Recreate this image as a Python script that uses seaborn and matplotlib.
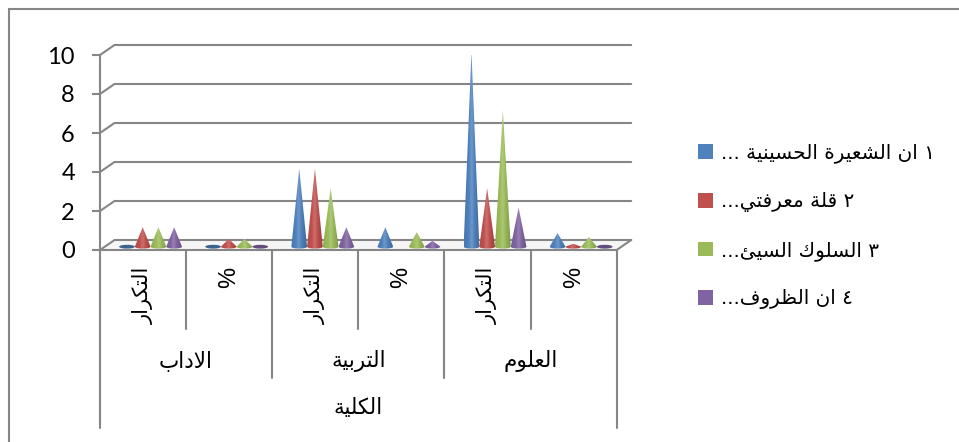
import numpy as np
import pandas as pd
import seaborn as sns
import matplotlib
matplotlib.use("Agg")
import matplotlib.pyplot as plt
from matplotlib.lines import Line2D
from matplotlib.patches import Ellipse, Patch, Polygon
from matplotlib.path import Path
from matplotlib.colors import to_rgb

# ---- data -----------------------------------------------------------------
measures = ["التكرار", "%", "التكرار", "%", "التكرار", "%"]
colleges = ["الاداب", "التربية", "العلوم"]
axis_title = "الكلية"
series_names = ["١ ان الشعيرة الحسينية ...", "٢ قلة معرفتي...",
                "٣ السلوك السيئ...", "٤ ان الظروف..."]
series_1 = [0, 0, 4, 1, 10, 0.7]
series_2 = [1, 0.4, 4, np.nan, 3, 0.15]
series_3 = [1, 0.4, 3, 0.75, 7, 0.5]
series_4 = [1, 0, 1, 0.3, 2, 0]
y_ticks = [0, 2, 4, 6, 8, 10]
palette = ["#4F81BD", "#C0504D", "#9BBB59", "#8064A2"]

# ---- Arabic shaping: matplotlib has no text layout engine for joined script ----
FORMS = {"ء": (0xFE80, 1), "ئ": (0xFE89, 4), "ا": (0xFE8D, 2), "ب": (0xFE8F, 4),
         "ة": (0xFE93, 2), "ت": (0xFE95, 4), "ث": (0xFE99, 4), "ج": (0xFE9D, 4),
         "ح": (0xFEA1, 4), "خ": (0xFEA5, 4), "د": (0xFEA9, 2), "ذ": (0xFEAB, 2),
         "ر": (0xFEAD, 2), "ز": (0xFEAF, 2), "س": (0xFEB1, 4), "ش": (0xFEB5, 4),
         "ص": (0xFEB9, 4), "ض": (0xFEBD, 4), "ط": (0xFEC1, 4), "ظ": (0xFEC5, 4),
         "ع": (0xFEC9, 4), "غ": (0xFECD, 4), "ف": (0xFED1, 4), "ق": (0xFED5, 4),
         "ك": (0xFED9, 4), "ل": (0xFEDD, 4), "م": (0xFEE1, 4), "ن": (0xFEE5, 4),
         "ه": (0xFEE9, 4), "و": (0xFEED, 2), "ى": (0xFEEF, 2), "ي": (0xFEF1, 4)}


def shape(text):
    """Return text in joined presentation forms and visual (left-to-right) order."""
    text = text.replace("لا", "\uE000")
    out = []
    for i, ch in enumerate(text):
        prev = text[i - 1] if i else " "
        nxt = text[i + 1] if i + 1 < len(text) else " "
        joins_prev = prev in FORMS and FORMS[prev][1] == 4
        if ch == "\uE000":
            out.append("\uFEFC" if joins_prev else "\uFEFB")
        elif ch in FORMS:
            base, n = FORMS[ch]
            joins_next = n == 4 and (nxt in FORMS or nxt == "\uE000") and nxt != "ء"
            if n == 1:
                out.append(chr(base))
            elif joins_prev and joins_next:
                out.append(chr(base + 3))
            elif joins_next:
                out.append(chr(base + 2))
            elif joins_prev:
                out.append(chr(base + 1))
            else:
                out.append(chr(base))
        else:
            out.append(ch)
    return "".join(reversed(out))


# ---- figure and scales ----------------------------------------------------
W, H = 959, 442
sns.set_theme(style="white")
plt.rcParams["font.family"] = ["DejaVu Sans"]
GRAY = "#868686"
INK = "#000000"
LINE = 1.5

fig = plt.figure(figsize=(W / 100, H / 100), dpi=100, facecolor="white")
left, right, top, bottom = 100, 616.7, 55, 250
ax = fig.add_axes([left / W, 1 - bottom / H, (right - left) / W, (bottom - top) / H])
ax.patch.set_visible(False)

table = pd.DataFrame({
    "slot": np.tile(np.arange(len(measures)), 4),
    "series": np.repeat(series_names, len(measures)),
    "value": series_1 + series_2 + series_3 + series_4,
})
sns.barplot(data=table, x="slot", y="value", hue="series", hue_order=series_names,
            palette=palette, width=0.73, gap=0, errorbar=None, legend=False, ax=ax)
ax.set_xlim(-0.5, 5.5)
ax.set_ylim(0, 10)
ax.set_xlabel("")
ax.set_ylabel("")

# One pixel in data units, used for the oblique depth of the floor and walls
ux = 6 / (right - left)
uy = 10 / (bottom - top)
depth_x, depth_y = 14.5 * ux, 10 * uy
cone_dx, cone_dy = 7.5 * ux, 3.3 * uy
rim = 1.9 * uy

# Floor and back-wall grid lines
ax.add_patch(Polygon([(-0.5, 0), (5.5, 0), (5.5 + depth_x, depth_y), (-0.5 + depth_x, depth_y)],
                     closed=True, facecolor="#f6f6f6", edgecolor="none", zorder=0.5, clip_on=False))
for t in y_ticks:
    ax.plot([-0.5, -0.5 + depth_x, 5.5 + depth_x], [t, t + depth_y, t + depth_y],
            color=GRAY, lw=LINE, zorder=1, clip_on=False, solid_joinstyle="miter")
ax.plot([5.5, 5.5 + depth_x], [0, depth_y], color=GRAY, lw=LINE, zorder=1, clip_on=False)


def cone_colors(rgb):
    rgb = np.array(rgb)
    white = np.ones(3)
    stops = [(0.0, rgb * 0.92), (0.3, rgb * 1.0), (0.48, rgb * 0.82 + white * 0.18),
             (0.68, rgb * 0.98), (1.0, rgb * 0.80)]
    xs = np.linspace(0, 1, 64)
    pos = [s[0] for s in stops]
    return np.stack([np.interp(xs, pos, [s[1][c] for s in stops]) for c in range(3)], axis=1)


# Every bar of the seaborn chart is redrawn as a shaded cone with the same geometry
for container, colour in zip(ax.containers, palette):
    rgb = to_rgb(colour)
    for rect in container:
        rect.set_visible(False)
        h = rect.get_height()
        if not np.isfinite(h):
            continue
        cx = rect.get_x() + rect.get_width() / 2 + cone_dx
        half = rect.get_width() / 2
        if h <= 0:
            ax.add_patch(Ellipse((cx, cone_dy), 2 * half, 2 * rim, facecolor=np.array(rgb) * 0.76,
                                 edgecolor="none", zorder=3, clip_on=False))
            continue
        angles = np.linspace(np.pi, 2 * np.pi, 24)
        arc = np.column_stack([cx + half * np.cos(angles), cone_dy + rim * np.sin(angles)])
        outline = np.vstack([arc, [[cx, cone_dy + h]], arc[:1]])
        extent = (cx - half, cx + half, cone_dy - rim, cone_dy + h)
        im = ax.imshow(cone_colors(rgb)[None, :, :], extent=extent, aspect="auto",
                       zorder=3, interpolation="bilinear")
        im.set_clip_box(None)
        im.set_clip_path(Path(outline), ax.transData)
ax.set_xlim(-0.5, 5.5)
ax.set_ylim(0, 10)

# Axes, ticks and tick labels
for name in ("top", "right"):
    ax.spines[name].set_visible(False)
for name in ("left", "bottom"):
    ax.spines[name].set_color(GRAY)
    ax.spines[name].set_linewidth(LINE)
ax.set_yticks(y_ticks)
ax.set_yticklabels([str(t) for t in y_ticks], family="Lato", fontsize=17, color=INK)
ax.tick_params(axis="y", left=True, length=6, width=LINE, color=GRAY, pad=12)
ax.set_xticks(range(len(measures)))
ax.set_xticklabels([shape(m) for m in measures], rotation=90, fontsize=15, color=INK, va="top", ha="center")
for label in ax.get_xticklabels():
    if label.get_text() == "%":
        label.set_family("Liberation Sans")
        label.set_fontsize(17)
ax.tick_params(axis="x", bottom=False, length=0, pad=12)


def px_y(py):
    """Convert a pixel row below the axes to the y scale of the axes."""
    return (bottom - py) * uy


# Multi-level category axis below the plot
for x in (0.5, 2.5, 4.5):
    ax.plot([x, x], [0, px_y(329)], color=GRAY, lw=LINE, clip_on=False)
for x in (1.5, 3.5):
    ax.plot([x, x], [0, px_y(378)], color=GRAY, lw=LINE, clip_on=False)
for x in (-0.5, 5.5):
    ax.plot([x, x], [0, px_y(428)], color=GRAY, lw=LINE, clip_on=False)
for x, name in zip((0.5, 2.5, 4.5), colleges):
    ax.text(x, px_y(361), shape(name), ha="center", va="center", fontsize=15.5, color=INK)
ax.text(2.5, px_y(408), shape(axis_title), ha="center", va="center", fontsize=15.5, color=INK)

# Legend
handles = [Patch(facecolor=c, edgecolor="none") for c in palette]
fig.legend(handles, [shape(s) for s in series_names], loc="center left",
           bbox_to_anchor=(698 / W, 1 - 226.5 / H), frameon=False, fontsize=14.4,
           handlelength=0.76, handleheight=0.76, handletextpad=0.4, labelspacing=1.44,
           borderpad=0, borderaxespad=0, labelcolor=INK)

# Outer chart border (top and left edges only reach the frame of the image)
fig.add_artist(Line2D([8.5 / W, 8.5 / W], [0, 1 - 8.5 / H], color=GRAY, lw=LINE))
fig.add_artist(Line2D([8.5 / W, 1], [1 - 8.5 / H, 1 - 8.5 / H], color=GRAY, lw=LINE))

fig.savefig("out.png", dpi=100, facecolor="white")
